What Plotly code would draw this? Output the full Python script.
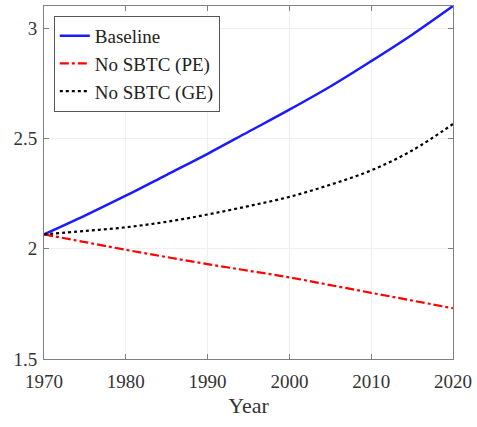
import plotly.graph_objects as go

years = [1970, 1975, 1980, 1985, 1990, 1995, 2000, 2005, 2010, 2015, 2020]
baseline = [2.065, 2.15, 2.24, 2.335, 2.43, 2.53, 2.63, 2.735, 2.85, 2.97, 3.1]
no_sbtc_pe = [2.065, 2.03, 1.995, 1.962, 1.93, 1.90, 1.87, 1.835, 1.80, 1.765, 1.73]
no_sbtc_ge = [2.065, 2.08, 2.097, 2.122, 2.155, 2.193, 2.235, 2.29, 2.355, 2.445, 2.565]

x_ticks = [1970, 1980, 1990, 2000, 2010, 2020]
y_ticks = [1.5, 2, 2.5, 3]
y_tick_labels = ["1.5", "2", "2.5", "3"]

font = "Liberation Serif"

fig = go.Figure()
fig.add_trace(go.Scatter(x=years, y=baseline, mode="lines", name="Baseline",
                         line=dict(color="#1a1aff", width=2.5, shape="spline")))
fig.add_trace(go.Scatter(x=years, y=no_sbtc_pe, mode="lines", name="No SBTC (PE)",
                         line=dict(color="#ff0000", width=2.2, dash="dashdot", shape="spline")))
fig.add_trace(go.Scatter(x=years, y=no_sbtc_ge, mode="lines", name="No SBTC (GE)",
                         line=dict(color="#000000", width=2.2, dash="dot", shape="spline")))

axis_common = dict(showline=True, linecolor="#808080", linewidth=1, mirror="ticks",
                   ticks="inside", ticklen=5, tickcolor="#808080",
                   showgrid=True, gridcolor="#efefef", gridwidth=1, zeroline=False,
                   tickfont=dict(family=font, size=19, color="#333333"))

fig.update_layout(
    width=477, height=427,
    margin=dict(l=44, r=22, t=5, b=68),
    paper_bgcolor="white", plot_bgcolor="white",
    font=dict(family=font, size=19, color="#333333"),
    xaxis=dict(range=[1970, 2020], tickvals=x_ticks, ticklabelstandoff=5,
               title=dict(text="Year", font=dict(family=font, size=22, color="#333333"), standoff=6),
               **axis_common),
    yaxis=dict(range=[1.5, 3.1], tickvals=y_ticks, ticktext=y_tick_labels, ticklabelstandoff=2,
               **axis_common),
    legend=dict(x=0.024, y=0.972, xanchor="left", yanchor="top",
                bgcolor="white", bordercolor="#555555", borderwidth=1,
                font=dict(family=font, size=19, color="#222222"),
                tracegroupgap=0, itemwidth=30),
    showlegend=True,
)

fig.write_html("out.html")
